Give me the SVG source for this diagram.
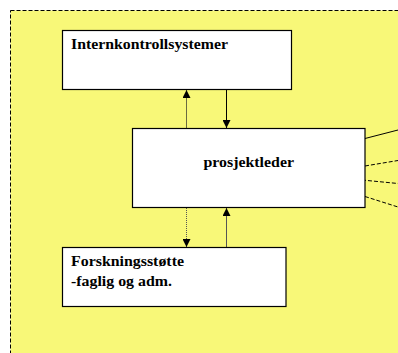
<svg xmlns="http://www.w3.org/2000/svg" width="398" height="353" viewBox="0 0 398 353">
<style>
.box{fill:#fff;stroke:#000;stroke-width:1.2}
.t{font-family:"Liberation Serif","Times New Roman",serif;font-weight:bold;font-size:14.5px;fill:#000}
.c{fill:none;stroke-width:1}
</style>
<defs>
<marker id="ah" viewBox="0 0 10 10" refX="10" refY="5" markerWidth="8" markerHeight="8" markerUnits="userSpaceOnUse" orient="auto"><path d="M0,0L10,5L0,10z" fill="#000"/></marker>
</defs>
<rect x="10.5" y="10.5" width="400" height="360" fill="#F8F878" stroke="#000" stroke-width="1" stroke-dasharray="4,2"/>
<g id="connectors">
<line class="c" x1="186.5" y1="128" x2="186.5" y2="90" stroke="#6b6b40" marker-end="url(#ah)"/>
<line class="c" x1="226.5" y1="89" x2="226.5" y2="128" stroke="#000" marker-end="url(#ah)"/>
<line class="c" x1="186.5" y1="208" x2="186.5" y2="247" stroke="#555" stroke-dasharray="1,1" marker-end="url(#ah)"/>
<line class="c" x1="226.5" y1="247" x2="226.5" y2="208" stroke="#555" stroke-width="0.8" marker-end="url(#ah)"/>
<line class="c" x1="365" y1="138.5" x2="398" y2="130" stroke="#000"/>
<line class="c" x1="365" y1="166" x2="398" y2="160.5" stroke="#000" stroke-dasharray="4,2"/>
<line class="c" x1="362" y1="180" x2="398" y2="183.5" stroke="#000" stroke-dasharray="4,2"/>
<line class="c" x1="365" y1="196.5" x2="398" y2="207" stroke="#000" stroke-dasharray="4,2"/>
</g>
<g id="internkontroll">
<rect class="box" x="62.5" y="30.5" width="229" height="59"/>
<text class="t" x="71" y="49" textLength="157" lengthAdjust="spacingAndGlyphs">Internkontrollsystemer</text>
</g>
<g id="prosjektleder">
<rect class="box" x="132.5" y="128.5" width="232.5" height="79" stroke="#555" stroke-width="1.5"/>
<text class="t" x="203.5" y="167" textLength="90.5" lengthAdjust="spacingAndGlyphs">prosjektleder</text>
</g>
<g id="forskningsstotte">
<rect class="box" x="62.5" y="247.5" width="223.5" height="59"/>
<text class="t" x="71" y="266" textLength="113" lengthAdjust="spacingAndGlyphs">Forskningsstøtte</text>
<text class="t" x="71" y="286" textLength="101" lengthAdjust="spacingAndGlyphs">-faglig og adm.</text>
</g>
</svg>
